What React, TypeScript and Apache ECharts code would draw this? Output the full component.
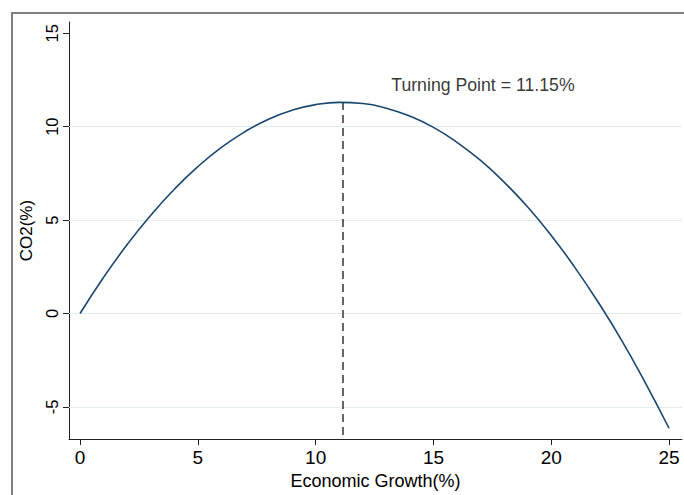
import React, { useEffect, useRef } from "react";
import * as echarts from "echarts";

const growth = [0, 1, 2, 3, 4, 5, 6, 7, 8, 9, 10, 11, 12, 13, 14, 15, 16, 17, 18, 19, 20, 21, 22, 23, 24, 25];
const co2 = [0, 1.94, 3.69, 5.26, 6.65, 7.86, 8.89, 9.73, 10.4, 10.88, 11.18, 11.3, 11.24, 10.99, 10.56, 9.96, 9.16, 8.19, 7.03, 5.7, 4.18, 2.47, 0.59, -1.46, -3.72, -6.14];
const xTicks = [0, 5, 10, 15, 20, 25];
const yTicks = [-5, 0, 5, 10, 15];
const gridValues = [-5, 0, 5, 10];
const turningPoint = 11.15;
const turningPeak = 11.32;
const annotation = { x: 17.1, y: 12.25, text: "Turning Point = 11.15%" };
const xRange = [-0.47, 25.55];
const yRange = [-6.72, 15.6];

export default function App() {
  const ref = useRef<HTMLDivElement>(null);
  useEffect(() => {
    if (!ref.current) return;
    const chart = echarts.init(ref.current, undefined, { renderer: "svg" });
    const font = "Arial, 'Liberation Sans', Helvetica, sans-serif";
    chart.setOption({
      animation: false,
      backgroundColor: "#ffffff",
      textStyle: { fontFamily: font },
      grid: { left: 69, right: 2, top: 22, bottom: 51, containLabel: false },
      xAxis: {
        type: "value",
        min: xRange[0],
        max: xRange[1],
        name: "Economic Growth(%)",
        nameLocation: "middle",
        nameGap: 29,
        nameTextStyle: { fontSize: 18, color: "#000", fontFamily: font },
        axisLine: { show: true, onZero: false, lineStyle: { color: "#222", width: 1 } },
        axisTick: { show: true, length: 6, customValues: xTicks, lineStyle: { color: "#222" } },
        axisLabel: { customValues: xTicks, fontSize: 19, color: "#000", margin: 9, fontFamily: font },
        splitLine: { show: false },
      },
      yAxis: {
        type: "value",
        min: yRange[0],
        max: yRange[1],
        name: "CO2(%)",
        nameLocation: "middle",
        nameGap: 17,
        nameRotate: 90,
        nameTextStyle: { fontSize: 17, color: "#000", fontFamily: font },
        axisLine: { show: true, onZero: false, lineStyle: { color: "#222", width: 1 } },
        axisTick: { show: true, length: 6, customValues: yTicks, lineStyle: { color: "#222" } },
        axisLabel: { customValues: yTicks, rotate: 90, fontSize: 16.5, color: "#000", margin: 9, fontFamily: font },
        splitLine: { show: false },
      },
      graphic: [
        { type: "line", shape: { x1: 12, y1: 13, x2: 12, y2: 495 }, style: { stroke: "#808080", lineWidth: 2 } },
        { type: "line", shape: { x1: 11, y1: 13, x2: 684, y2: 13 }, style: { stroke: "#808080", lineWidth: 2 } },
      ],
      series: [
        {
          type: "line",
          data: [],
          z: 1,
          silent: true,
          markLine: {
            silent: true,
            z: 1,
            symbol: "none",
            label: { show: false },
            lineStyle: { color: "#e3eef0", width: 1.2, type: "solid" },
            data: gridValues.map((v) => ({ yAxis: v })),
          },
        },
        {
          type: "line",
          data: growth.map((g, i) => [g, co2[i]]),
          smooth: true,
          showSymbol: false,
          symbol: "none",
          z: 4,
          lineStyle: { color: "#1a476f", width: 1.6 },
          markLine: {
            silent: true,
            z: 3,
            symbol: "none",
            label: { show: false },
            lineStyle: { color: "#333", width: 1.5, type: [8, 5] },
            data: [[{ coord: [turningPoint, turningPeak] }, { coord: [turningPoint, yRange[0]] }]],
          },
        },
        {
          type: "scatter",
          data: [[annotation.x, annotation.y]],
          symbolSize: 1,
          itemStyle: { color: "rgba(0,0,0,0)" },
          silent: true,
          z: 5,
          label: {
            show: true,
            position: "inside",
            formatter: annotation.text,
            fontSize: 17.7,
            color: "#000",
            fontFamily: font,
          },
        },
      ],
    });
    return () => chart.dispose();
  }, []);
  return (
    <div
      ref={ref}
      style={{ position: "fixed", left: 0, top: 0, width: 684, height: 495, background: "#fff" }}
    />
  );
}
